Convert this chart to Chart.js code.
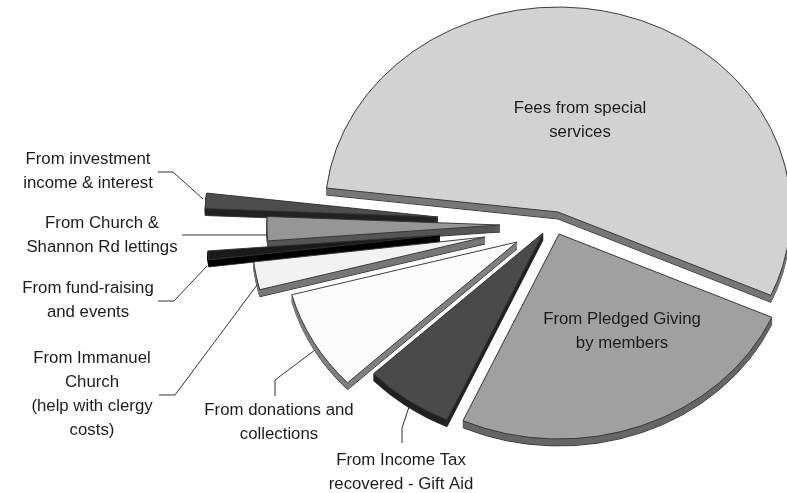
<!DOCTYPE html>
<html>
<head>
<meta charset="utf-8">
<title>Income pie</title>
<script src="https://cdn.jsdelivr.net/npm/chart.js@4"></script>
<style>
  html, body { margin: 0; padding: 0; background: #fff; }
  #chart { display: block; filter: blur(0.4px); }
</style>
</head>
<body>
<canvas id="chart" width="787" height="493"></canvas>
<script>
const categories = [
  ["Fees from special", "services"],
  ["From Pledged Giving", "by members"],
  ["From Income Tax", "recovered - Gift Aid"],
  ["From donations and", "collections"],
  ["From Immanuel", "Church", "(help with clergy", "costs)"],
  ["From fund-raising", "and events"],
  ["From Church &", "Shannon Rd lettings"],
  ["From investment", "income & interest"]
];
// share of income, percent
const values = [54.8, 25.1, 6.2, 7.9, 2.2, 0.7, 1.9, 1.2];

const faceColors = ["#d2d2d2", "#a0a0a0", "#4a4a4a", "#fcfcfc", "#f2f2f2", "#1a1a1a", "#969696", "#4d4d4d"];
const sideColors = ["#777777", "#666666", "#222222", "#808080", "#777777", "#000000", "#555555", "#222222"];

// layout of the exploded slices, all in page pixels
const center = { x: 558, y: 212 };
const radiusX = 233;
const squash = 205 / 233;
const depth = 7;
const explode = [[0, 0], [1, 22], [-15, 21], [-41, 30], [-73, 25], [-118, 23], [-58, 13], [-120, 5]];
const drawOrder = [0, 7, 6, 5, 4, 3, 2, 1];

// centre x and first baseline of each label, then line spacing
const labelPos = [[580, 113], [622, 324], [401, 465], [279, 415], [92, 363], [88, 293], [102, 228], [88, 164]];
const lineGap = 24;
const leaders = [
  [[158, 172], [173, 172], [203, 199]],
  [[182, 235], [267, 235]],
  [[158, 301], [174, 301], [207, 266]],
  [[159, 395], [175, 395], [257, 285]],
  [[275, 396], [275, 380], [315, 350]],
  [[409, 407], [402, 428], [402, 443]]
];

function drawSlice(ctx, el, i, dy) {
  ctx.save();
  ctx.translate(center.x + explode[i][0], center.y + explode[i][1] + dy);
  ctx.scale(1, squash);
  ctx.translate(-el.x, -el.y);
  el.draw(ctx);
  ctx.restore();
}

const explodedPie = {
  id: 'explodedPie',
  beforeDatasetDraw(chart, args) {
    const ctx = chart.ctx;
    const arcs = args.meta.data;
    drawOrder.forEach(i => {
      const el = arcs[i];
      const face = el.options;
      for (let d = depth; d > 0; d--) {
        // lowest copy gets the dark outline, the rest are stroked in their own
        // colour so thin slices keep their tips
        el.options = Object.assign({}, face, {
          backgroundColor: sideColors[i],
          borderColor: d === depth ? '#333' : sideColors[i],
          borderWidth: 1
        });
        drawSlice(ctx, el, i, d);
      }
      el.options = face;
      drawSlice(ctx, el, i, 0);
    });
    return false;
  },
  afterDraw(chart) {
    const ctx = chart.ctx;
    ctx.save();
    ctx.strokeStyle = '#333';
    ctx.lineWidth = 1;
    leaders.forEach(line => {
      ctx.beginPath();
      line.forEach((p, k) => k ? ctx.lineTo(p[0], p[1]) : ctx.moveTo(p[0], p[1]));
      ctx.stroke();
    });
    ctx.fillStyle = '#1c1c1c';
    ctx.font = '16.8px "Liberation Sans", Arial, sans-serif';
    ctx.textAlign = 'center';
    ctx.textBaseline = 'alphabetic';
    categories.forEach((lines, i) => {
      lines.forEach((t, k) => ctx.fillText(t, labelPos[i][0], labelPos[i][1] + k * lineGap));
    });
    ctx.restore();
  }
};

new Chart(document.getElementById('chart'), {
  type: 'pie',
  data: {
    labels: categories,
    datasets: [{
      data: values,
      backgroundColor: faceColors,
      borderColor: '#333',
      borderWidth: 1
    }]
  },
  options: {
    responsive: false,
    animation: false,
    rotation: 276.7,
    radius: radiusX,
    plugins: { legend: { display: false }, tooltip: { enabled: false } }
  },
  plugins: [explodedPie]
});
</script>
</body>
</html>
